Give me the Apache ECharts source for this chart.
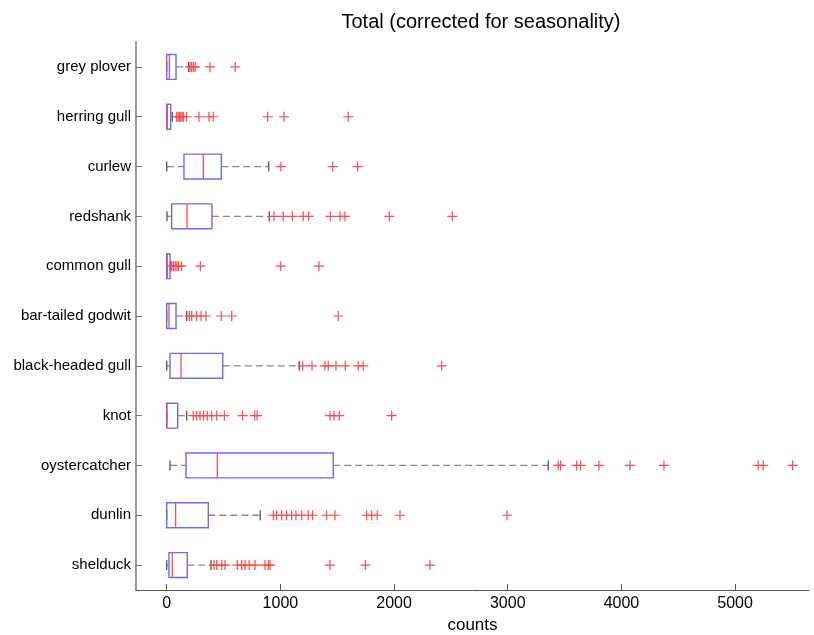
<!DOCTYPE html>
<html>
<head>
<meta charset="utf-8">
<script src="https://cdn.jsdelivr.net/npm/echarts@6/dist/echarts.min.js"></script>
<style>html,body{margin:0;padding:0;background:#fff;}#c{width:814px;height:635px;}</style>
</head>
<body>
<div id="c"></div>
<script>
const categories = ['grey plover','herring gull','curlew','redshank','common gull','bar-tailed godwit','black-headed gull','knot','oystercatcher','dunlin','shelduck'];
const lowWhisker  = [0, 0, 0, 3, 0, 0, 0, 0, 29, 0, 0];
const q1          = [0, 0, 152, 44, 0, 0, 29, 0, 170, 0, 20];
const median      = [23, 5, 322, 179, 5, 20, 126, 2, 445, 79, 49];
const q3          = [82, 35, 480, 398, 29, 82, 493, 97, 1465, 366, 181];
const highWhisker = [193, 49, 897, 902, 35, 176, 1166, 176, 3356, 823, 390];
const outliers = [
  [205, 220, 235, 250, 381, 603],
  [88, 100, 112, 124, 136, 146, 176, 284, 372, 410, 888, 1032, 1597],
  [1005, 1460, 1680],
  [944, 1025, 1105, 1201, 1249, 1439, 1524, 1568, 1958, 2512],
  [45, 60, 75, 90, 105, 130, 296, 1003, 1339],
  [199, 220, 264, 302, 346, 480, 572, 1509],
  [1196, 1278, 1392, 1421, 1489, 1571, 1685, 1729, 2419],
  [234, 264, 293, 322, 357, 396, 440, 507, 668, 775, 795, 1436, 1471, 1518, 1979],
  [3444, 3465, 3606, 3641, 3802, 4075, 4374, 5203, 5247, 5506],
  [938, 967, 1011, 1055, 1099, 1137, 1187, 1245, 1284, 1407, 1480, 1759, 1803, 1852, 2052, 2994],
  [416, 440, 484, 513, 621, 660, 689, 726, 777, 865, 894, 909, 1436, 1747, 2316]
];
const xTicks = [0, 1000, 2000, 3000, 4000, 5000];

const boxData = categories.map((c, i) => [i, lowWhisker[i], q1[i], median[i], q3[i], highWhisker[i]]);
const outlierData = [];
outliers.forEach((arr, i) => arr.forEach(v => outlierData.push([v, i])));

function renderBox(params, api) {
  const idx = api.value(0);
  const lo = api.coord([api.value(1), idx]);
  const b1 = api.coord([api.value(2), idx]);
  const md = api.coord([api.value(3), idx]);
  const b3 = api.coord([api.value(4), idx]);
  const hi = api.coord([api.value(5), idx]);
  const band = api.size([0, 1])[1];
  const hh = band * 0.25;
  const ch = 5;
  const y = lo[1];
  const children = [];
  const dashStyle = { stroke: '#8a8a8a', lineWidth: 1.3, lineDash: [7, 4], fill: null };
  if (b1[0] - lo[0] > 1) children.push({ type: 'line', shape: { x1: lo[0], y1: y, x2: b1[0], y2: y }, style: dashStyle });
  if (hi[0] - b3[0] > 1) children.push({ type: 'line', shape: { x1: b3[0], y1: y, x2: hi[0], y2: y }, style: dashStyle });
  children.push({ type: 'line', shape: { x1: lo[0], y1: y - ch, x2: lo[0], y2: y + ch }, style: { stroke: '#555', lineWidth: 1.3 } });
  children.push({ type: 'line', shape: { x1: hi[0], y1: y - ch, x2: hi[0], y2: y + ch }, style: { stroke: '#555', lineWidth: 1.3 } });
  children.push({ type: 'rect', shape: { x: b1[0], y: y - hh, width: Math.max(b3[0] - b1[0], 1), height: 2 * hh }, style: { stroke: '#6a6aff', lineWidth: 1.4, fill: null } });
  children.push({ type: 'line', shape: { x1: md[0], y1: y - hh, x2: md[0], y2: y + hh }, style: { stroke: '#ff4040', lineWidth: 1.2 } });
  return { type: 'group', children: children };
}

const FONT = 'Liberation Sans, Arial, sans-serif';
const chart = echarts.init(document.getElementById('c'));
chart.setOption({
  animation: false,
  backgroundColor: '#fff',
  title: {
    text: 'Total (corrected for seasonality)',
    left: 476, top: 7, textAlign: 'center',
    textStyle: { fontFamily: FONT, fontSize: 20, fontWeight: 'normal', color: '#000' }
  },
  grid: { left: 136, right: 5, top: 42, bottom: 45, outerBoundsMode: 'none', containLabel: false },
  xAxis: {
    type: 'value', min: -270, max: 5650,
    name: 'counts', nameLocation: 'middle', nameGap: 27,
    nameTextStyle: { fontFamily: FONT, fontSize: 17, color: '#000' },
    splitLine: { show: false },
    axisLine: { show: true, onZero: false, lineStyle: { color: '#555', width: 1 } },
    axisTick: { show: true, inside: true, length: 6, lineStyle: { color: '#555' }, customValues: xTicks },
    axisLabel: { customValues: xTicks, margin: 6, fontFamily: FONT, fontSize: 16, color: '#000',
      formatter: function (v) { return String(v); } }
  },
  yAxis: {
    type: 'category', data: categories, inverse: true,
    axisLine: { show: true, onZero: false, lineStyle: { color: '#999', width: 2 } },
    axisTick: { show: true, inside: true, length: 6, alignWithLabel: true, lineStyle: { color: '#777' } },
    axisLabel: { margin: 5, fontFamily: FONT, fontSize: 15, color: '#000' },
    splitLine: { show: false }
  },
  series: [
    {
      type: 'custom', renderItem: renderBox, data: boxData,
      encode: { x: [1, 2, 3, 4, 5], y: 0 }, z: 2
    },
    {
      type: 'scatter', data: outlierData,
      symbol: 'path://M0,5L10,5M5,0L5,10', symbolSize: 10,
      itemStyle: { color: 'rgba(0,0,0,0)', borderColor: '#ff4a4a', borderWidth: 1.2, opacity: 1 },
      z: 3
    }
  ]
});
</script>
</body>
</html>
